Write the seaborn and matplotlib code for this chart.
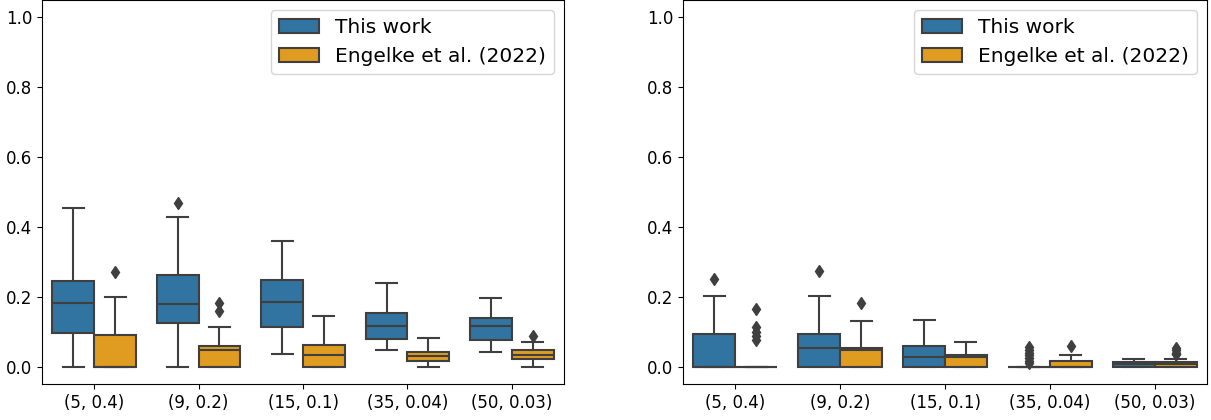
import matplotlib
matplotlib.use("Agg")
import matplotlib.pyplot as plt
import seaborn as sns
import pandas as pd
import numpy as np

# settings (d, alpha) shown on the x axis
settings = ['(5, 0.4)', '(9, 0.2)', '(15, 0.1)', '(35, 0.04)', '(50, 0.03)']
methods = ['This work', 'Engelke et al. (2022)']

# box summaries: whisker low, q1, median, q3, whisker high
# left panel
left_ours_lo = [0.0, 0.0, 0.035, 0.048, 0.043]
left_ours_q1 = [0.096, 0.126, 0.112, 0.079, 0.077]
left_ours_med = [0.182, 0.178, 0.186, 0.117, 0.117]
left_ours_q3 = [0.244, 0.261, 0.248, 0.152, 0.139]
left_ours_hi = [0.454, 0.428, 0.361, 0.238, 0.196]
left_ours_out = [[], [0.468], [], [], []]

left_eng_lo = [0.0, 0.0, 0.0, 0.0, 0.0]
left_eng_q1 = [0.0, 0.0, 0.0, 0.015, 0.022]
left_eng_med = [0.0, 0.048, 0.033, 0.030, 0.032]
left_eng_q3 = [0.091, 0.058, 0.063, 0.043, 0.046]
left_eng_hi = [0.200, 0.112, 0.144, 0.083, 0.069]
left_eng_out = [[0.272], [0.183, 0.158], [], [], [0.087]]

# right panel
right_ours_lo = [0.0, 0.0, 0.0, 0.0, 0.0]
right_ours_q1 = [0.0, 0.0, 0.0, 0.0, 0.0]
right_ours_med = [0.0, 0.053, 0.027, 0.0, 0.006]
right_ours_q3 = [0.093, 0.093, 0.059, 0.0, 0.013]
right_ours_hi = [0.202, 0.202, 0.133, 0.0, 0.022]
right_ours_out = [[0.250], [0.273], [], [0.056, 0.048, 0.040, 0.032, 0.024, 0.016, 0.010], []]

right_eng_lo = [0.0, 0.0, 0.0, 0.0, 0.0]
right_eng_q1 = [0.0, 0.0, 0.0, 0.0, 0.0]
right_eng_med = [0.0, 0.048, 0.027, 0.0, 0.006]
right_eng_q3 = [0.0, 0.054, 0.032, 0.015, 0.013]
right_eng_hi = [0.0, 0.131, 0.069, 0.033, 0.022]
right_eng_out = [[0.165, 0.112, 0.100, 0.088, 0.075], [0.182], [], [0.058],
                 [0.053, 0.046, 0.040, 0.035, 0.036]]


def sample_from_summary(lo, q1, med, q3, hi, out, m=8):
    # sorted sample of size 4m+1 whose quartiles land exactly on q1/med/q3
    lower = [lo] + [q1] * m
    middle = [med] * m
    upper = [q3] * m
    top = [q3] * (m - 1 - len(out)) + [hi] + list(out)
    return lower + middle + upper + top


def build_frame(ours, eng):
    rows = []
    for name, summ in zip(methods, [ours, eng]):
        for i, s in enumerate(settings):
            vals = sample_from_summary(*(arr[i] for arr in summ))
            rows += [(s, name, v) for v in vals]
    return pd.DataFrame(rows, columns=['setting', 'method', 'value'])


df_left = build_frame(
    [left_ours_lo, left_ours_q1, left_ours_med, left_ours_q3, left_ours_hi, left_ours_out],
    [left_eng_lo, left_eng_q1, left_eng_med, left_eng_q3, left_eng_hi, left_eng_out])
df_right = build_frame(
    [right_ours_lo, right_ours_q1, right_ours_med, right_ours_q3, right_ours_hi, right_ours_out],
    [right_eng_lo, right_eng_q1, right_eng_med, right_eng_q3, right_eng_hi, right_eng_out])

palette = ['#1f77b4', '#ffa500']

fig = plt.figure(figsize=(12.11, 4.2), dpi=100)
ax1 = fig.add_axes([42 / 1211, 36 / 420, 522 / 1211, 384 / 420])
ax2 = fig.add_axes([683 / 1211, 36 / 420, 524 / 1211, 384 / 420])

for ax, df in [(ax1, df_left), (ax2, df_right)]:
    sns.boxplot(data=df, x='setting', y='value', hue='method', order=settings,
                hue_order=methods, palette=palette, saturation=0.75, linewidth=1.5,
                linecolor='#3f3f3f', gap=0, width=0.8,
                flierprops=dict(marker='d', markersize=6, markerfacecolor='#3f3f3f',
                                markeredgecolor='#3f3f3f'),
                ax=ax)
    ax.set_ylim(-0.05, 1.05)
    ax.set_yticks([0.0, 0.2, 0.4, 0.6, 0.8, 1.0])
    ax.set_xlabel('')
    ax.set_ylabel('')
    ax.tick_params(labelsize=12)
    ax.legend(loc='upper right', fontsize=14.5)

fig.savefig('out.png', dpi=100)
